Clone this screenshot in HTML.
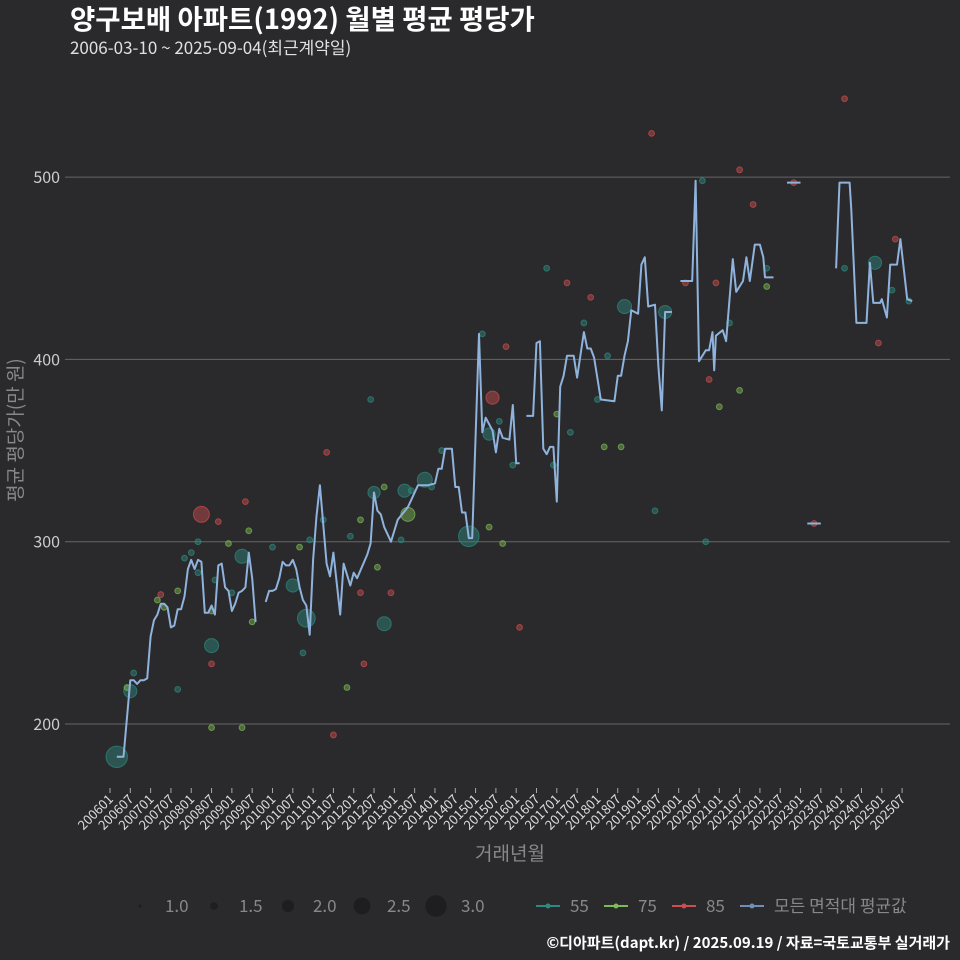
<!DOCTYPE html>
<html><head><meta charset="utf-8">
<style>
html,body{margin:0;padding:0;background:#2a2a2c;}
svg{display:block;font-family:"Noto Sans CJK KR","Liberation Sans",sans-serif;}
</style></head>
<body>
<svg id="chart" width="960" height="960" viewBox="0 0 960 960">
<rect width="960" height="960" fill="#2a2a2c"/>
<text x="70" y="29" fill="#ffffff" font-size="27.5" font-weight="bold">양구보배 아파트(1992) 월별 평균 평당가</text>
<text x="70" y="54" fill="#e0e0e0" font-size="17">2006-03-10 ~ 2025-09-04(최근계약일)</text>
<g id="grid"></g>
<g id="points"></g>
<g id="line"></g>
<g id="xaxis"></g>
<text transform="translate(22,430) rotate(-90)" text-anchor="middle" fill="#888" font-size="19">평균 평당가(만 원)</text>
<text x="510" y="860" text-anchor="middle" fill="#888" font-size="19">거래년월</text>
<g id="legend"></g>
<text x="950" y="948" text-anchor="end" fill="#ffffff" font-size="15" font-weight="bold">©디아파트(dapt.kr) / 2025.09.19 / 자료=국토교통부 실거래가</text>
</svg>
<script>
// month index: (year-2006)*12 + (month-1)
const yTicks = [200, 300, 400, 500];
const xTickLabels = ["200601","200607","200701","200707","200801","200807","200901","200907","201001","201007","201101","201107","201201","201207","201301","201307","201401","201407","201501","201507","201601","201607","201701","201707","201801","201807","201901","201907","202001","202007","202101","202107","202201","202207","202301","202307","202401","202407","202501","202507"];
const lineMonths = [2,4,6,7,8,9,10,11,12,13,14,15,16,17,18,19,20,21,22,23,24,25,26,27,28,29,30,31,32,33,34,35,36,37,38,39,40,41,42,43,null,46,47,48,49,50,51,52,53,54,55,56,57,58,59,60,61,62,64,65,66,68,69,71,72,73,76,77,78,79,80,81,83,84,85,88,89,91,94,96,97,98,99,101,102,103,104,105,106,107,109,110,111,113,114,115,116,118,119,120,121,null,123,125,126,127,128,129,130,131,132,133,134,135,137,138,140,141,142,143,145,149,150,151,152,153,154,156,157,158,159,161,162,163,164,166,null,168.5,172,173,174,176,177,178,178.5,179,181,182,184,185,187,188,189,190.5,192,193,193.5,196,null,200,204,null,206,210,null,214.5,215.5,218.5,219,220.5,223.5,224.5,225.5,227.5,228,229.5,230.5,232.5,233.5,235.5,237];
const lineValues = [182,182,224,224,222,224,224,225,248,257,260,266,266,264,253,254,263,263,270,285,290,285,290,289,261,261,265,260,287,288,275,273,262,266,272,273,275,294,280,256,null,267,273,273,274,280,289,287,287,290,285,275,268,265,249,290,314,331,288,281,294,260,288,276,283,280,293,299,327,317,315,308,300,306,312,319,323,331,331,332,340,340,351,351,330,330,316,316,302,302,414,360,368,361,349,362,357,356,375,343,343,null,369,369,409,410,351,348,352,352,322,385,391,402,402,390,415,406,406,401,378,377,391,391,402,410,427,425,452,456,429,430,396,372,426,426,null,443,443,498,399,405,405,415,394,413,416,410,455,437,443,456,443,463,463,456,445,445,null,497,497,null,310,310,null,450,497,497,482,420,420,453,431,431,433,423,452,452,466,433,432];
const p55Months = [2,6,30,39,54,58,81,78,87,93,106,112,152,164,226,7,20,22,24,26,31,36,26,48,57,77,63,59,71,86,89,95,98,110,115,119,129,131,136,140,144,147,161,175,176,183,194,217,231,236];
const p55Values = [182,218,243,292,276,258,255,327,328,334,303,359,429,426,453,228,219,291,294,283,279,272,300,297,239,378,312,301,303,301,328,330,350,414,366,342,450,342,360,420,378,402,317,498,300,420,450,450,438,432];
const p55Sizes = [3,2.1,2.2,2.2,2.1,2.6,2.2,2,2.1,2.3,2.9,2,2.2,2.1,2.1,1.3,1.3,1.3,1.3,1.3,1.3,1.3,1.3,1.3,1.3,1.3,1.3,1.3,1.3,1.3,1.3,1.3,1.3,1.3,1.3,1.3,1.3,1.3,1.3,1.3,1.3,1.3,1.3,1.3,1.3,1.3,1.3,1.3,1.3,1.3];
const p75Months = [88,5,14,16,20,30,35,41,42,30,39,56,70,74,79,81,112,116,132,146,151,180,186,194];
const p75Values = [315,220,268,264,273,262,299,306,256,198,198,297,220,312,286,330,308,299,370,352,352,374,383,440];
const p75Sizes = [2.2,1.3,1.3,1.3,1.3,1.3,1.3,1.3,1.3,1.3,1.3,1.3,1.3,1.3,1.3,1.3,1.3,1.3,1.3,1.3,1.3,1.3,1.3,1.3];
const p85Months = [27,113,30,15,32,40,64,66,74,75,83,117,135,121,142,160,186,190,177,179,170,217,227,232,202,208];
const p85Values = [315,379,233,271,311,322,349,194,272,233,272,407,442,253,434,524,504,485,389,442,442,543,409,466,497,310];
const p85Sizes = [2.4,2.1,1.3,1.3,1.3,1.3,1.3,1.3,1.3,1.3,1.3,1.3,1.3,1.3,1.3,1.3,1.3,1.3,1.3,1.3,1.3,1.3,1.3,1.3,1.3,1.3];

const NS = "http://www.w3.org/2000/svg";
const X0 = 110, XM = 3.385, Y0 = 724, YS = 1.823;
function xScale(m){ return X0 + m*XM; }
function yScale(v){ return Y0 - (v-200)*YS; }
function rScale(s){ return 1.5 + (s-1)*4.6; }
function mk(tag, attrs, parent){ const e=document.createElementNS(NS,tag); for(const k in attrs) e.setAttribute(k,attrs[k]); parent.appendChild(e); return e; }

const grid = document.getElementById('grid');
yTicks.forEach(t=>{
  const l = mk('line',{x1:65,x2:950,y1:yScale(t),y2:yScale(t),stroke:'#666','stroke-width':1},grid);
  
  
  const tx = mk('text',{x:60,y:yScale(t)+6,'text-anchor':'end',fill:'#ccc','font-size':16},grid);
  tx.textContent = t;
  
  
});

const xa = document.getElementById('xaxis');
xTickLabels.forEach((lab,i)=>{
  const x = xScale(i*6);
  const t = mk('line',{x1:x,x2:x,y1:788,y2:793,stroke:'#aaa','stroke-width':1},xa);
  
  
  const tx = mk('text',{transform:`translate(${x+4},${800}) rotate(-45)`,'text-anchor':'end',fill:'#ddd','font-size':13},xa);
  tx.textContent = lab;
  
  
});

const pts = document.getElementById('points');
function drawPts(ms, vs, ss, fill, name){
  ms.forEach((m,i)=>{
    const c = mk('circle',{cx:xScale(m),cy:yScale(vs[i]),r:rScale(ss[i]),fill:fill,'fill-opacity':0.45,stroke:fill,'stroke-opacity':0.7,'stroke-width':1},pts);
    
    
  });
}
drawPts(p55Months,p55Values,p55Sizes,'#2e8a80','point-55');
drawPts(p75Months,p75Values,p75Sizes,'#7dbb55','point-75');
drawPts(p85Months,p85Values,p85Sizes,'#cc4e4e','point-85');

const lg = document.getElementById('line');
let d='', start=true;
lineMonths.forEach((m,i)=>{
  if(m===null || lineValues[i]===null){ start=true; return; }
  d += (start?'M':'L') + xScale(m).toFixed(1) + ',' + yScale(lineValues[i]).toFixed(1) + ' ';
  start=false;
});
const path = mk('path',{d:d,fill:'none',stroke:'#8fb3dc','stroke-width':2,'stroke-linejoin':'round'},lg);



const leg = document.getElementById('legend');
const sizeLabels = [1.0,1.5,2.0,2.5,3.0];
const sizeX = [140,214,288,362,436];
sizeLabels.forEach((s,i)=>{
  const c = mk('circle',{cx:sizeX[i],cy:906,r:rScale(s),fill:'#1e1e20'},leg);
  
  
  const t = mk('text',{x:sizeX[i]+25,y:912,fill:'#888','font-size':17},leg);
  t.textContent = s.toFixed(1);
  
  
});
const serLabels = ['55','75','85','모든 면적대 평균값'];
const serColors = ['#2e8a80','#7dbb55','#cc4e4e','#6f8fb5'];
const serX = [536,604,672,740];
serLabels.forEach((s,i)=>{
  const l = mk('line',{x1:serX[i],x2:serX[i]+24,y1:906,y2:906,stroke:serColors[i],'stroke-width':2},leg);
  
  
  const c = mk('circle',{cx:serX[i]+12,cy:906,r:2.5,fill:serColors[i]},leg);
  
  
  const t = mk('text',{x:serX[i]+34,y:912,fill:'#888','font-size':17},leg);
  t.textContent = s;
  
  
});
</script>
</body></html>
